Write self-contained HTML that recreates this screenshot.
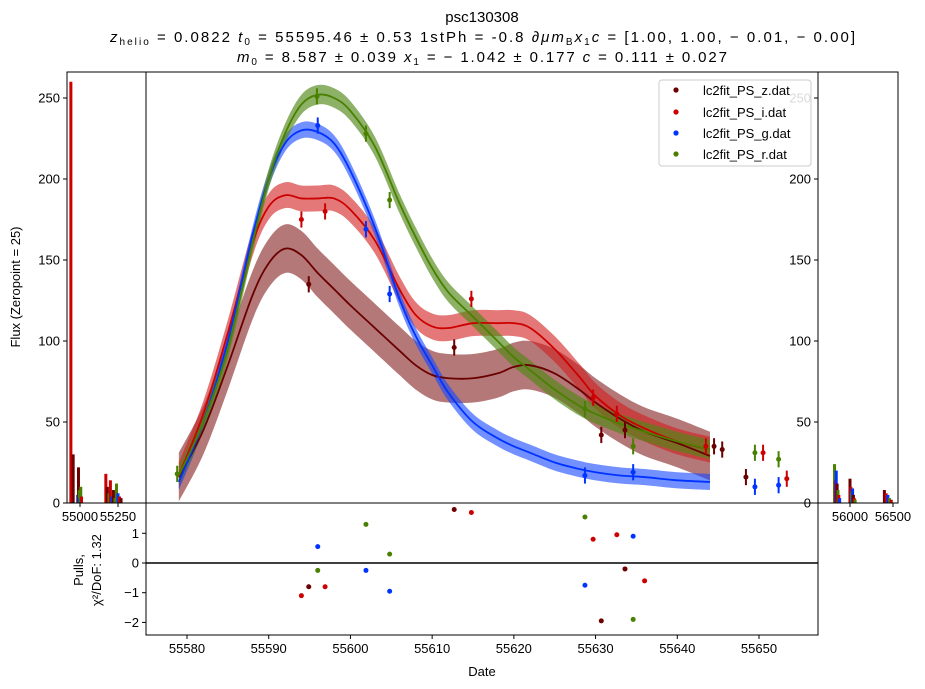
<!DOCTYPE html>
<html><head><meta charset="utf-8">
<style>
body{margin:0;background:#fff;}
svg{display:block;font-family:"Liberation Sans","DejaVu Sans",sans-serif;}
</style></head>
<body>
<svg id="chart" width="925" height="689" viewBox="0 0 925 689" xmlns="http://www.w3.org/2000/svg">
<rect width="925" height="689" fill="#fff"/>
<g font-size="15" fill="#000">
<text x="482" y="22" text-anchor="middle">psc130308</text>
<text x="110" y="42" textLength="745" lengthAdjust="spacing"><tspan font-style="italic">z</tspan><tspan font-size="10" dy="3">helio</tspan><tspan dy="-3"> = 0.0822 </tspan><tspan font-style="italic">t</tspan><tspan font-size="10" dy="3">0</tspan><tspan dy="-3"> = 55595.46 ± 0.53 1stPh = -0.8 ∂</tspan><tspan font-style="italic">μm</tspan><tspan font-size="10" dy="3">B</tspan><tspan dy="-3" font-style="italic">x</tspan><tspan font-size="10" dy="3">1</tspan><tspan dy="-3" font-style="italic">c</tspan><tspan> = [1.00,  1.00,  − 0.01,  − 0.00]</tspan></text>
<text x="237" y="62" textLength="490" lengthAdjust="spacing"><tspan font-style="italic">m</tspan><tspan font-size="10" dy="3">0</tspan><tspan dy="-3"> = 8.587 ± 0.039 </tspan><tspan font-style="italic">x</tspan><tspan font-size="10" dy="3">1</tspan><tspan dy="-3"> = − 1.042 ± 0.177 </tspan><tspan font-style="italic">c</tspan><tspan> = 0.111 ± 0.027</tspan></text>
</g>
<text x="20" y="287" font-size="13" text-anchor="middle" transform="rotate(-90 20 287)">Flux (Zeropoint = 25)</text>
<g font-size="13" text-anchor="middle">
<text x="83" y="570" transform="rotate(-90 83 570)">Pulls,</text>
<text x="101" y="570" transform="rotate(-90 101 570)">χ²/DoF: 1.32</text>
</g>
<text x="482" y="676" font-size="13" text-anchor="middle">Date</text>
<g id="main"></g>
<g id="left"></g>
<g id="right"></g>
<g id="pulls"></g>
<g id="legend">
<rect x="659" y="80" width="152" height="86" rx="3" fill="#fff" fill-opacity="0.85" stroke="#ccc"/>
<g><circle cx="676" cy="90" r="2.6" fill="#6b0000"/><text x="703" y="95" font-size="13">lc2fit_PS_z.dat</text></g>
<g><circle cx="676" cy="112" r="2.6" fill="#cc0000"/><text x="703" y="117" font-size="13">lc2fit_PS_i.dat</text></g>
<g><circle cx="676" cy="133" r="2.6" fill="#0033ff"/><text x="703" y="138" font-size="13">lc2fit_PS_g.dat</text></g>
<g><circle cx="676" cy="154" r="2.6" fill="#4a8000"/><text x="703" y="159" font-size="13">lc2fit_PS_r.dat</text></g>
</g>
</svg>
<script>
// ---- data ----
const bands = ['z','i','g','r'];
const modelDays = [55579,55582,55585,55588,55590,55592,55594,55596,55598,55600,55603,55606,55608,55610,55612,55615,55618,55620,55622,55625,55628,55630,55633,55636,55640,55644];
const model_z = [16,45,85,128,148,157,153,142,132,122,108,94,85,79,77,77,80,84,85,80,70,62,52,44,37,29];
const model_i = [17,55,105,160,183,190,188,188,188,181,162,132,116,109,108,111,111,111,108,95,78,66,54,46,38,33];
const model_g = [13,50,100,165,200,222,230,229,222,205,170,126,103,85,68,50,40,35,31,25,21,19,17,16,14,13];
const model_r = [17,50,95,160,200,228,246,252,250,242,220,185,164,145,130,115,100,90,82,70,60,55,49,44,38,33];
const bandErr = {z:15, i:8, g:5, r:6};
const obs_z_day=[55594.9,55612.7,55630.7,55633.6,55644.5,55645.5,55648.4];
const obs_z_flux=[135,96,42,45,35,33,16];
const obs_i_day=[55594.0,55596.9,55614.8,55629.7,55632.6,55643.5,55650.5,55653.4];
const obs_i_flux=[175,180,126,65,55,35,31,15];
const obs_g_day=[55596.0,55601.9,55604.8,55628.7,55634.6,55649.5,55652.4];
const obs_g_flux=[233,169,129,17,19,10,11];
const obs_r_day=[55578.8,55595.9,55601.9,55604.8,55628.7,55634.6,55649.5,55652.4];
const obs_r_flux=[18,251,228,187,58,35,31,27];
const pull_z_day=[55594.9,55612.7,55630.7,55633.6];
const pull_z=[-0.8,1.8,-1.95,-0.2];
const pull_i_day=[55594.0,55596.9,55614.8,55629.7,55632.6,55636.0];
const pull_i=[-1.1,-0.8,1.7,0.8,0.95,-0.6];
const pull_g_day=[55596.0,55601.9,55604.8,55628.7,55634.6];
const pull_g=[0.55,-0.25,-0.95,-0.75,0.9];
const pull_r_day=[55596.0,55601.9,55604.8,55628.7,55634.6];
const pull_r=[-0.25,1.3,0.3,1.55,-1.9];
const xTicks=[55580,55590,55600,55610,55620,55630,55640,55650];
const yTicks=[0,50,100,150,200,250];
const pullTicks=[1,0,-1,-2];
// side panels (approximate clutter of early/late data)
const left_day=[54940,54955,54985,54990,54995,55000,55005,55010,55170,55180,55190,55200,55210,55220,55230,55240,55250,55260,55270];
const left_flux=[260,30,5,22,8,3,10,4,18,10,6,14,4,8,3,12,6,4,3];
const left_band=['i','z','g','z','r','g','r','i','i','z','r','i','g','z','r','r','g','i','z'];
const right_day=[55820,55830,55840,55850,55860,55870,55880,56000,56010,56020,56030,56040,56050,56060,56400,56420,56440,56460,56480];
const right_flux=[24,14,20,12,8,5,3,15,10,7,9,5,3,2,8,6,5,3,2];
const right_band=['r','i','g','z','r','i','g','z','i','r','g','z','i','r','z','i','g','r','i'];
const colors={z:'#6b0000',i:'#cc0000',g:'#0033ff',r:'#4a8000'};
const fills={z:'rgba(120,10,10,0.55)',i:'rgba(210,30,30,0.6)',g:'rgba(20,70,255,0.6)',r:'rgba(80,135,20,0.65)'};
const models={z:model_z,i:model_i,g:model_g,r:model_r};
const obs={z:[obs_z_day,obs_z_flux],i:[obs_i_day,obs_i_flux],g:[obs_g_day,obs_g_flux],r:[obs_r_day,obs_r_flux]};
const pulls={z:[pull_z_day,pull_z],i:[pull_i_day,pull_i],g:[pull_g_day,pull_g],r:[pull_r_day,pull_r]};

// ---- axes ----
const L=146,R=818,T=72,B=503,PB=635;
const X=d=>187+(d-55580)*572/70;
const Y=f=>503-f*1.62;
const PY=p=>563-p*29.7;
const XL=d=>80+(d-55000)*38/250;
const XR=d=>850+(d-56000)*43/500;
const NS='http://www.w3.org/2000/svg';
function mk(parent,tag,attrs){const e=document.createElementNS(NS,tag);for(const k in attrs)e.setAttribute(k,attrs[k]);parent.appendChild(e);return e;}
function smooth(pts){let d='M'+pts[0][0]+','+pts[0][1];for(let i=0;i<pts.length-1;i++){const p0=pts[Math.max(0,i-1)],p1=pts[i],p2=pts[i+1],p3=pts[Math.min(pts.length-1,i+2)];d+=' C'+(p1[0]+(p2[0]-p0[0])/6)+','+(p1[1]+(p2[1]-p0[1])/6)+' '+(p2[0]-(p3[0]-p1[0])/6)+','+(p2[1]-(p3[1]-p1[1])/6)+' '+p2[0]+','+p2[1];}return d;}
const main=document.getElementById('main');
const defs=mk(main,'defs',{});
const cp=mk(defs,'clipPath',{id:'mc'});mk(cp,'rect',{x:L,y:T,width:R-L,height:B-T});
const mg=mk(main,'g',{'clip-path':'url(#mc)'});
bands.forEach(b=>{
  const m=models[b],e=bandErr[b];
  const up=modelDays.map((d,k)=>[X(d),Y(m[k]+e)]);
  const lo=modelDays.map((d,k)=>[X(d),Y(m[k]-e)]).reverse();
  const pth=smooth(up)+' L'+smooth(lo).slice(1)+' Z';
  const band=mk(mg,'path',{d:pth,fill:fills[b],stroke:'none'});
  
  
});
bands.forEach(b=>{
  const m=models[b];
  const ln=mk(mg,'path',{d:smooth(modelDays.map((d,k)=>[X(d),Y(m[k])])),fill:'none',stroke:colors[b],'stroke-width':1.8});
  
  
});
bands.forEach(b=>{
  const [ds,fs]=obs[b];
  ds.forEach((d,k)=>{
    const g=mk(mg,'g',{});
    
    
    mk(g,'line',{x1:X(d),x2:X(d),y1:Y(fs[k]+5),y2:Y(fs[k]-5),stroke:colors[b],'stroke-width':2});
    mk(g,'circle',{cx:X(d),cy:Y(fs[k]),r:2.5,fill:colors[b]});
  });
});
const mf=mk(main,'rect',{x:L,y:T,width:R-L,height:B-T,fill:'none',stroke:'#000','stroke-width':1});



// pulls panel
const pulls_g=document.getElementById('pulls');
const pf=mk(pulls_g,'rect',{x:L,y:B,width:R-L,height:PB-B,fill:'none',stroke:'#000'});


const zl=mk(pulls_g,'line',{x1:L,x2:R,y1:PY(0),y2:PY(0),stroke:'#000','stroke-width':1.5});


bands.forEach(b=>{
  const [ds,ps]=pulls[b];
  ds.forEach((d,k)=>{
    const c=mk(pulls_g,'circle',{cx:X(d),cy:PY(ps[k]),r:2.5,fill:colors[b]});
    
    
  });
});
pullTicks.forEach(t=>{
  mk(pulls_g,'line',{x1:L-4,x2:L,y1:PY(t),y2:PY(t),stroke:'#000'});
  const tx=mk(pulls_g,'text',{x:L-7,y:PY(t)+4.5,'font-size':13,'text-anchor':'end'});
  tx.textContent=t<0?'−'+(-t):t;
  
  
});
xTicks.forEach(t=>{
  mk(pulls_g,'line',{x1:X(t),x2:X(t),y1:PB,y2:PB+4,stroke:'#000'});
  const tx=mk(pulls_g,'text',{x:X(t),y:PB+18,'font-size':13,'text-anchor':'middle'});
  tx.textContent=t;
  
  
});

// side panels
function side(id,x0,x1,XF,days,flux,bnd,ticks){
  const g=document.getElementById(id);
  const c=mk(defs,'clipPath',{id:id+'c'});mk(c,'rect',{x:x0,y:T,width:x1-x0,height:B-T});
  const gg=mk(g,'g',{'clip-path':'url(#'+id+'c)'});
  days.forEach((d,k)=>{
    const ln=mk(gg,'line',{x1:XF(d),x2:XF(d),y1:Y(0),y2:Y(flux[k]),stroke:colors[bnd[k]],'stroke-width':3});
    
    
  });
  const fr=mk(g,'rect',{x:x0,y:T,width:x1-x0,height:B-T,fill:'none',stroke:'#000'});
  
  
  yTicks.forEach(t=>{
    mk(g,'line',{x1:x0-4,x2:x0,y1:Y(t),y2:Y(t),stroke:'#000'});
    const tx=mk(g,'text',{x:x0-7,y:Y(t)+4.5,'font-size':13,'text-anchor':'end'});
    tx.textContent=t;
    
    
  });
  ticks.forEach(t=>{
    mk(g,'line',{x1:XF(t),x2:XF(t),y1:B,y2:B+4,stroke:'#000'});
    const tx=mk(g,'text',{x:XF(t),y:B+18,'font-size':13,'text-anchor':'middle'});
    tx.textContent=t;
    
    
  });
}
side('left',67,146,XL,left_day,left_flux,left_band,[55000,55250]);
side('right',818,898,XR,right_day,right_flux,right_band,[56000,56500]);
</script>
</body></html>
